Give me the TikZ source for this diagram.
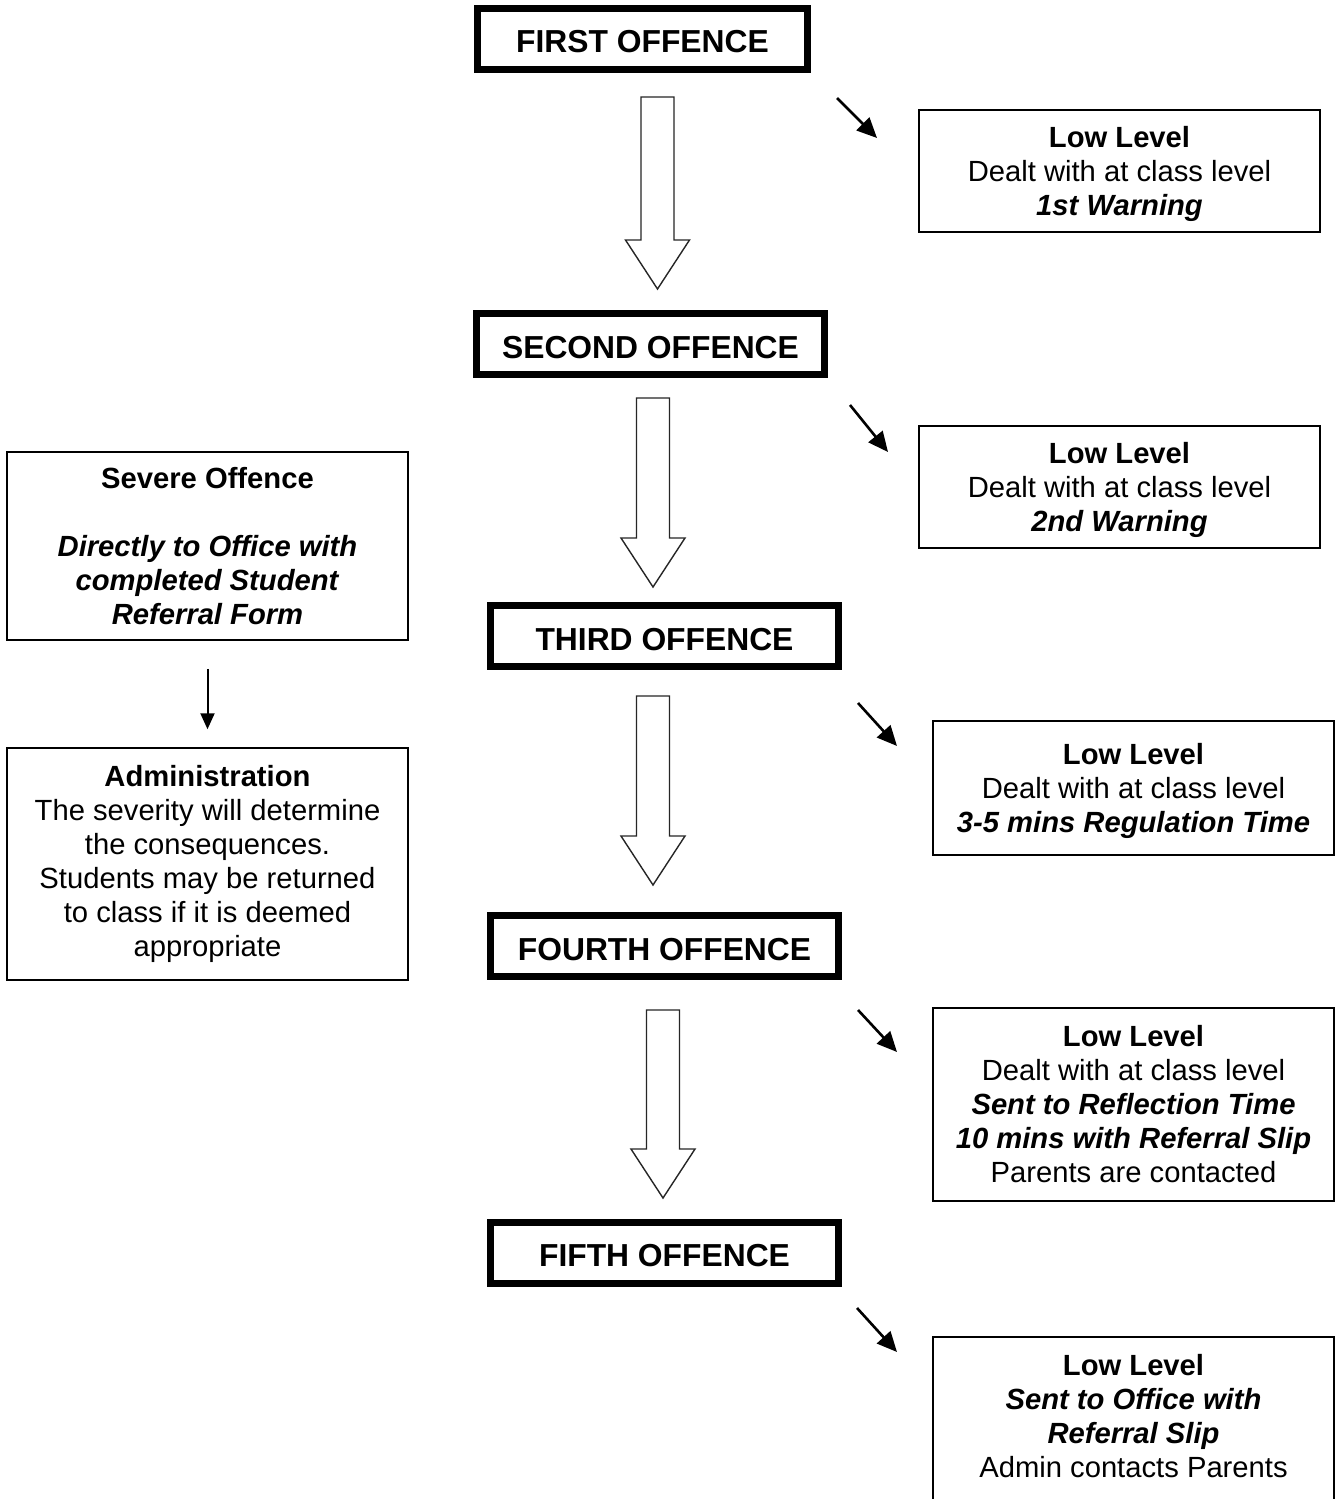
\documentclass[tikz,border=0pt]{standalone}
\usepackage{fontspec}
\setmainfont{Liberation Sans}
\usetikzlibrary{positioning, calc, arrows.meta}
\tikzset{
  >={Triangle[length=10pt,width=9pt]},
  offence/.style={draw, line width=3.5pt, minimum width=174pt, minimum height=30.5pt,
    text height=14pt, text depth=0pt, font=\fontsize{15.9}{19}\selectfont\bfseries},
  infobox/.style={draw, line width=0.75pt, minimum width=200.5pt, align=center,
    font=\fontsize{14.6}{17}\selectfont},
  hollow/.style={draw=black!85, line width=0.7pt, fill=white},
}
\newcommand{\bigarrow}[2]{%
  \draw[hollow] let \p1=(#1), \p2=(#2) in
    (\x1-8.25pt,\y1) -- (\x1+8.25pt,\y1) -- (\x1+8.25pt,\y2+24.5pt)
    -- (\x1+16pt,\y2+24.5pt) -- (\x1,\y2) -- (\x1-16pt,\y2+24.5pt)
    -- (\x1-8.25pt,\y2+24.5pt) -- cycle;}
\newcommand{\bi}[1]{\textbf{\textit{#1}}}

\begin{document}
\begin{tikzpicture}[x=0.5pt, y=-0.5pt]
  \fill[white] (0,0) rectangle (1338,1499);
  \useasboundingbox (0,0) rectangle (1338,1499);

  % offence boxes
  \node[offence, minimum width=165pt] (first)  at (642.5,39)    {FIRST OFFENCE};
  \node[offence]                      (second) at (650.5,344)   {SECOND OFFENCE};
  \node[offence]                      (third)  at (664.5,636)   {THIRD OFFENCE};
  \node[offence]                      (fourth) at (664.5,946)   {FOURTH OFFENCE};
  \node[offence]                      (fifth)  at (664.5,1252.5){FIFTH OFFENCE};

  % low level boxes
  \node[infobox, minimum height=61pt, text depth=0pt] (low1) at (1119.5,171)
    {\textbf{Low Level}\\Dealt with at class level\\\bi{1st Warning}};
  \node[infobox, minimum height=61pt, text depth=0pt] (low2) at (1119.5,487)
    {\textbf{Low Level}\\Dealt with at class level\\\bi{2nd Warning}};
  \node[infobox, minimum height=67pt, text depth=0pt] (low3) at (1133.5,788)
    {\textbf{Low Level}\\Dealt with at class level\\\bi{3-5 mins Regulation Time}};
  \node[infobox, minimum height=96.5pt] (low4) at (1133.5,1104.5)
    {\textbf{Low Level}\\Dealt with at class level\\\bi{Sent to Reflection Time}\\
     \bi{10 mins with Referral Slip}\\Parents are contacted};
  \node[infobox, minimum height=90pt, anchor=north, text depth=10.5pt] (low5) at (1133.5,1336)
    {\textbf{Low Level}\\\bi{Sent to Office with}\\\bi{Referral Slip}\\Admin contacts Parents};

  % severe side
  \node[infobox, minimum height=94pt] (severe) at (207.5,546)
    {\textbf{Severe Offence}\\[17pt]\bi{Directly to Office with}\\\bi{completed Student}\\\bi{Referral Form}};
  \node[infobox, minimum height=116pt] (admin) at (207.5,864)
    {\textbf{Administration}\\The severity will determine\\the consequences.\\Students may be returned\\
     to class if it is deemed\\appropriate};
  \draw[->, line width=1pt, shorten <=14pt, shorten >=9pt, >={Triangle[length=8pt,width=7pt]}]
    (severe) -- (admin);

  % big hollow arrows
  \coordinate (t1) at (657.5,97);  \coordinate (h1) at (657.5,289);
  \coordinate (t2) at (653,398);   \coordinate (h2) at (653,587);
  \coordinate (t3) at (653,696);   \coordinate (h3) at (653,885);
  \coordinate (t4) at (663,1010);  \coordinate (h4) at (663,1198);
  \bigarrow{t1}{h1}
  \bigarrow{t2}{h2}
  \bigarrow{t3}{h3}
  \bigarrow{t4}{h4}

  % small slanted arrows
  \coordinate (s1) at (837,98);   \coordinate (e1) at (877,138);
  \coordinate (s2) at (850,405);  \coordinate (e2) at (888,452);
  \coordinate (s3) at (858,703);  \coordinate (e3) at (897,746);
  \coordinate (s4) at (858,1010); \coordinate (e4) at (897,1052);
  \coordinate (s5) at (857,1308); \coordinate (e5) at (897,1352);
  \draw[->, line width=1.3pt] (s1) -- (e1);
  \draw[->, line width=1.3pt] (s2) -- (e2);
  \draw[->, line width=1.3pt] (s3) -- (e3);
  \draw[->, line width=1.3pt] (s4) -- (e4);
  \draw[->, line width=1.3pt] (s5) -- (e5);
\end{tikzpicture}
\end{document}
